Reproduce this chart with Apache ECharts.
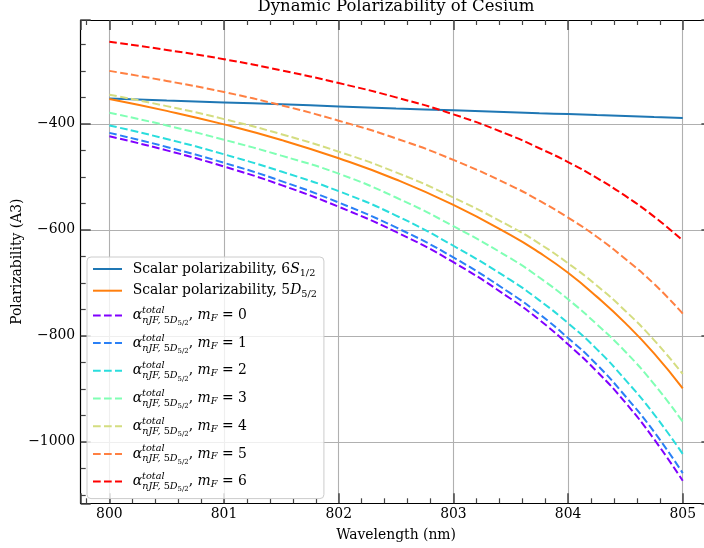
<!DOCTYPE html>
<html>
<head>
<meta charset="utf-8">
<script src="https://cdn.jsdelivr.net/npm/echarts@6/dist/echarts.min.js"></script>
<style>
html, body { margin: 0; padding: 0; background: #fff; }
#chart { width: 704px; height: 548px; }
</style>
</head>
<body>
<div id="chart"></div>
<script>
// Wavelength grid (nm), denser near the resonance side
const wavelength = [800, 800.5, 801, 801.5, 802, 802.5, 803, 803.5, 803.75, 804, 804.25, 804.5, 804.75, 805];

// Scalar polarizabilities (A3)
const scalar6S = [-352, -356, -359.5, -363, -367, -371, -374.5, -378, -380, -381.5, -383.5, -385, -387, -389];
const scalar5D = [-353, -375.5, -401, -430.5, -465, -505, -553, -610, -643, -681, -726, -776, -833, -899];

// Total polarizability of 5D5/2 for each magnetic sublevel mF
const totalMF0 = [-423.5, -450, -480.5, -515.5, -556.5, -604, -661, -730, -770, -816, -867, -926, -995, -1073.5];
const totalMF1 = [-417, -443.5, -473.5, -508, -548.5, -595.5, -652, -720, -759, -804, -854, -914, -981, -1059];
const totalMF2 = [-403, -428.5, -457.5, -490, -527, -573, -630, -695, -733, -776, -825, -883, -948, -1023];
const totalMF3 = [-379, -403, -430, -460, -494, -539, -593, -654, -690, -731, -778, -830, -891, -962];
const totalMF4 = [-345, -366.5, -391, -419.5, -452.5, -491.5, -539, -594, -626, -663, -705, -753, -808, -872];
const totalMF5 = [-300, -319, -340, -365, -394, -427.5, -468, -516.5, -545, -577, -613, -655, -702, -758];
const totalMF6 = [-245, -260.5, -278, -299, -323, -350, -382, -422, -446, -472, -502, -536, -575, -620];

const mFLevels = [0, 1, 2, 3, 4, 5, 6];
const totalByMF = [totalMF0, totalMF1, totalMF2, totalMF3, totalMF4, totalMF5, totalMF6];
const mFColors = ['#8000ff', '#2a80f6', '#2adddd', '#80ffb4', '#d4dd80', '#ff8042', '#ff0000'];

const serif = 'DejaVu Serif';
const fs = 13.9;
const dash = [7.7, 3.3];

function pairs(ys) { return wavelength.map((x, i) => [x, ys[i]]); }

const series = [
  { name: 'scalar6S', type: 'line', data: pairs(scalar6S), color: '#1f77b4',
    lineStyle: { width: 2, color: '#1f77b4', type: 'solid' } },
  { name: 'scalar5D', type: 'line', data: pairs(scalar5D), color: '#ff7f0e',
    lineStyle: { width: 2, color: '#ff7f0e', type: 'solid' } }
];
mFLevels.forEach((m, k) => {
  series.push({ name: 'mF' + m, type: 'line', data: pairs(totalByMF[k]), color: mFColors[k],
    lineStyle: { width: 2, color: mFColors[k], type: dash } });
});
series.forEach(s => {
  s.symbol = 'none';
  s.showSymbol = false;
  s.smooth = 0.5;
  s.animation = false;
});

// rich-text token style helper
function tok(extra) {
  return Object.assign({ fontFamily: serif, fontSize: fs, color: '#000' }, extra);
}
const subFs = 9.7;
const rich = {
  g: tok({ width: 5.7 }),
  it: tok({ fontStyle: 'italic' }),
  sb: tok({ fontSize: subFs, verticalAlign: 'bottom', height: 10 }),
  mg: tok({ width: 5.7, lineHeight: 24 }),
  a: tok({ fontStyle: 'italic', lineHeight: 24 }),
  sp: tok({ fontStyle: 'italic', fontSize: subFs, verticalAlign: 'top', height: 14, width: 0.1, lineHeight: 24 }),
  si: tok({ fontStyle: 'italic', fontSize: subFs, verticalAlign: 'bottom', height: 14, lineHeight: 24 }),
  su: tok({ fontSize: subFs, verticalAlign: 'bottom', height: 14, lineHeight: 24 }),
  ss: tok({ fontSize: 6.95, verticalAlign: 'bottom', height: 8, lineHeight: 24 }),
  mi: tok({ fontStyle: 'italic', lineHeight: 24 }),
  mf: tok({ fontStyle: 'italic', fontSize: subFs, verticalAlign: 'bottom', height: 18, lineHeight: 24 }),
  up: tok({ lineHeight: 24 })
};

function legendLabel(name) {
  if (name === 'scalar6S') return '{g| }Scalar polarizability, 6{it|S}{sb|1/2}';
  if (name === 'scalar5D') return '{g| }Scalar polarizability, 5{it|D}{sb|5/2}';
  const m = name.slice(2);
  return '{mg| }{a|α}{sp|total}{si|nJF,}{su| 5}{si|D}{ss|5/2}{up|, }{mi|m}{mf|F}{up| = ' + m + '}';
}

function minusFmt(v) { return v < 0 ? '\u2212' + Math.abs(v) : String(v); }

const tickLine = { color: '#444', width: 1.5 };
const minorLine = { color: '#444', width: 1.2 };
const gridLine = { show: true, showMinLine: false, showMaxLine: false,
  lineStyle: { color: '#b0b0b0', width: 1.1 } };

// x range 799.75..805.25; the right part of the frame runs past the canvas edge
function xAxisCfg(pos) {
  const bottom = pos === 'bottom';
  return {
    type: 'value', position: pos, min: 799.75, max: 805.25, splitNumber: 5,
    name: bottom ? 'Wavelength (nm)' : '',
    nameLocation: 'middle', nameGap: 25, nameMoveOverlap: false,
    nameTextStyle: { fontFamily: serif, fontSize: fs, color: '#000' },
    axisLine: { show: true, onZero: false, lineStyle: { color: '#000', width: 1.2 } },
    axisTick: { show: true, inside: true, length: 10, lineStyle: tickLine },
    minorTick: { show: true, splitNumber: 5, length: 5, lineStyle: minorLine },
    axisLabel: { show: bottom, margin: 4, fontFamily: serif, fontSize: fs, color: '#000',
      showMinLabel: false, showMaxLabel: false },
    splitLine: bottom ? gridLine : { show: false }
  };
}
function yAxisCfg(pos) {
  const left = pos === 'left';
  return {
    type: 'value', position: pos, min: -1116, max: -204, splitNumber: 5,
    name: left ? 'Polarizability (A3)' : '',
    nameLocation: 'middle', nameGap: 56, nameMoveOverlap: false,
    nameTextStyle: { fontFamily: serif, fontSize: fs, color: '#000' },
    axisLine: { show: true, onZero: false, lineStyle: { color: '#000', width: 1.2 } },
    axisTick: { show: true, inside: true, length: 10, lineStyle: tickLine },
    minorTick: { show: true, splitNumber: 4, length: 5, lineStyle: minorLine },
    axisLabel: { show: left, margin: 5.5, fontFamily: serif, fontSize: fs, color: '#000',
      showMinLabel: false, showMaxLabel: false, formatter: minusFmt },
    splitLine: left ? gridLine : { show: false }
  };
}

const chart = echarts.init(document.getElementById('chart'), null, { renderer: 'canvas' });
chart.setOption({
  animation: false,
  backgroundColor: '#ffffff',
  textStyle: { fontFamily: serif },
  title: {
    text: 'Dynamic Polarizability of Cesium',
    left: 396, top: -1.5, textAlign: 'center', padding: 0,
    textStyle: { fontFamily: serif, fontSize: 16.5, fontWeight: 'normal', color: '#000' }
  },
  grid: { left: 80.7, top: 20, right: -7.4, bottom: 44.7, containLabel: false, outerBoundsMode: 'none' },
  xAxis: [xAxisCfg('bottom'), xAxisCfg('top')],
  yAxis: [yAxisCfg('left'), yAxisCfg('right')],
  legend: {
    orient: 'vertical', left: 87, top: 257,
    padding: [3, 7, 5, 5], itemGap: 3.7, itemWidth: 29, itemHeight: 12,
    backgroundColor: 'rgba(255,255,255,0.8)', borderColor: '#cccccc', borderWidth: 1, borderRadius: 4,
    selectedMode: false,
    data: series.map(s => s.name),
    formatter: legendLabel,
    itemStyle: { opacity: 0, borderWidth: 0 },
    lineStyle: { width: 2 },
    textStyle: { fontFamily: serif, fontSize: fs, color: '#000', lineHeight: 18, rich: rich }
  },
  series: series
});
</script>
</body>
</html>
